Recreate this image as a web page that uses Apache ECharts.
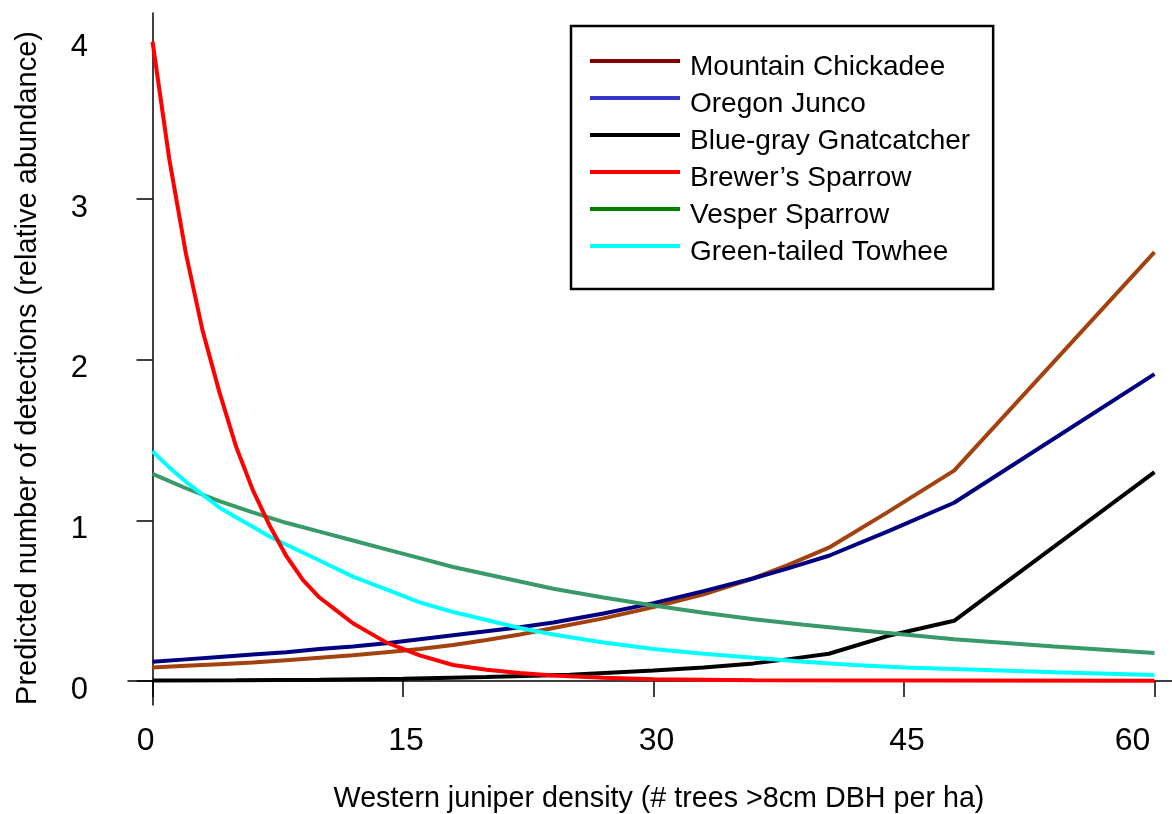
<!DOCTYPE html>
<html>
<head>
<meta charset="utf-8">
<script src="https://cdn.jsdelivr.net/npm/echarts@6/dist/echarts.min.js"></script>
<style>html,body{margin:0;padding:0;background:#fff}#c{width:1172px;height:814px}</style>
</head>
<body>
<div id="c"></div>
<script>
const seriesNames = ['Mountain Chickadee','Oregon Junco','Blue-gray Gnatcatcher',"Brewer\u2019s Sparrow",'Vesper Sparrow','Green-tailed Towhee'];
const xTicks = [0, 15, 30, 45, 60];
const yTicks = [0, 1, 2, 3, 4];

const chickadee = [[0,0.085],[2,0.095],[4,0.105],[6,0.115],[8,0.13],[10,0.145],[12,0.16],[14,0.18],[16,0.2],[18,0.225],[20,0.255],[22,0.29],[24,0.33],[27,0.39],[30,0.46],[33,0.54],[36,0.64],[38,0.72],[40.5,0.83],[44,1.05],[48,1.31],[60,2.67]];
const junco = [[0,0.12],[2,0.135],[4,0.15],[6,0.165],[8,0.18],[10,0.2],[12,0.215],[14,0.235],[16,0.26],[18,0.285],[20,0.31],[22,0.335],[24,0.365],[27,0.42],[30,0.485],[33,0.56],[36,0.64],[38,0.7],[40.5,0.78],[44,0.93],[48,1.11],[60,1.91]];
const gnatcatcher = [[0,0.003],[5,0.005],[10,0.008],[15,0.015],[20,0.025],[25,0.04],[30,0.065],[33,0.085],[36,0.11],[38,0.135],[40.5,0.17],[44,0.28],[48,0.375],[60,1.3]];
const brewers = [[0,3.98],[1,3.25],[2,2.66],[3,2.18],[4,1.8],[5,1.46],[6,1.19],[7,0.97],[8,0.78],[9,0.63],[10,0.52],[11,0.44],[12,0.36],[13,0.3],[14,0.24],[15,0.2],[16,0.16],[18,0.1],[20,0.07],[22,0.05],[24,0.035],[27,0.02],[30,0.012],[36,0.005],[48,0.003],[60,0.002]];
const vesper = [[0,1.29],[2,1.2],[4,1.12],[6,1.05],[8,0.985],[10,0.93],[12,0.875],[14,0.82],[16,0.765],[18,0.71],[20,0.665],[22,0.62],[24,0.575],[27,0.52],[30,0.47],[33,0.425],[36,0.385],[39,0.35],[42,0.32],[45,0.29],[48,0.26],[54,0.215],[60,0.174]];
const towhee = [[0,1.43],[1,1.33],[2,1.24],[3,1.16],[4,1.08],[5,1.02],[6,0.96],[7,0.9],[8,0.85],[9,0.8],[10,0.75],[12,0.65],[14,0.57],[15,0.53],[16,0.49],[18,0.43],[20,0.38],[22,0.33],[24,0.29],[27,0.24],[30,0.2],[33,0.17],[36,0.145],[39,0.12],[42,0.1],[45,0.085],[48,0.075],[54,0.055],[60,0.037]];

const lineColors = ['#a3410f','#000080','#000000','#ff0000','#379a68','#00ffff'];
const legendColors = ['#800000','#3636cc','#000000','#ff0000','#008000','#00ffff'];
const allData = [chickadee, junco, gnatcatcher, brewers, vesper, towhee];

const FONT = 'Liberation Sans, Arial, sans-serif';
const chart = echarts.init(document.getElementById('c'), null, {renderer: 'canvas'});
chart.setOption({
  animation: false,
  backgroundColor: '#fff',
  grid: {left: 128, right: 0, top: 13, bottom: 109, containLabel: false, outerBoundsMode: 'none'},
  xAxis: {
    type: 'value', min: -1.47, max: 61.05,
    name: 'Western juniper density (# trees >8cm DBH per ha)',
    nameLocation: 'middle', nameGap: 80,
    nameTextStyle: {fontFamily: FONT, fontSize: 28.7, color: '#000', padding: [0,0,0,18]},
    axisLine: {show: true, lineStyle: {color: '#000', width: 1.5}},
    axisTick: {show: true, length: 16, inside: false, customValues: xTicks, lineStyle: {color: '#000', width: 1.5}},
    axisLabel: {
      customValues: xTicks, margin: 20, fontFamily: FONT, fontSize: 32, color: '#000',
      formatter: function (v) { if (v === 0) return '{l|0}'; if (v === 60) return '{r|60}'; return '{m|' + v + '}'; },
      rich: {
        l: {fontFamily: FONT, fontSize: 32, color: '#000', padding: [0,14,0,0]},
        r: {fontFamily: FONT, fontSize: 32, color: '#000', padding: [0,44,0,0]},
        m: {fontFamily: FONT, fontSize: 32, color: '#000', padding: [0,0,0,6]}
      }
    },
    splitLine: {show: false}
  },
  yAxis: {
    type: 'value', min: -0.149, max: 4.158,
    name: 'Predicted number of detections (relative abundance)',
    nameLocation: 'middle', nameGap: 86, nameRotate: 90,
    nameTextStyle: {fontFamily: FONT, fontSize: 29, color: '#000', padding: [0,18,0,0]},
    axisLine: {show: true, lineStyle: {color: '#000', width: 1.5}},
    axisTick: {show: true, length: 16, inside: false, customValues: [0,1,2,3], lineStyle: {color: '#000', width: 1.5}},
    axisLabel: {
      customValues: yTicks, margin: 40, color: '#000',
      formatter: function (v) { return '{a|' + v + '}'; },
      rich: {a: {fontFamily: FONT, fontSize: 31, color: '#000', padding: [18,0,0,0]}}
    },
    splitLine: {show: false}
  },
  legend: {
    orient: 'vertical', left: 571, top: 26,
    itemWidth: 90, itemHeight: 4, itemGap: -3,
    icon: 'rect',
    padding: [15, 23, 23, 19],
    borderColor: '#000', borderWidth: 2.5, backgroundColor: '#fff',
    formatter: function (n) { return '{t|' + n + '}'; },
    textStyle: {
      fontFamily: FONT, fontSize: 28, color: '#000',
      rich: {t: {fontFamily: FONT, fontSize: 28, color: '#000', lineHeight: 25, padding: [12,0,0,5]}}
    },
    data: seriesNames.map((n, i) => ({name: n, icon: 'rect', itemStyle: {color: legendColors[i], borderWidth: 0}}))
  },
  series: seriesNames.map((n, i) => ({
    name: n, type: 'line', data: allData[i], symbol: 'none', smooth: false,
    lineStyle: {color: lineColors[i], width: 4}, itemStyle: {color: lineColors[i]},
    z: i === 3 ? 5 : 2
  }))
});
</script>
</body>
</html>
